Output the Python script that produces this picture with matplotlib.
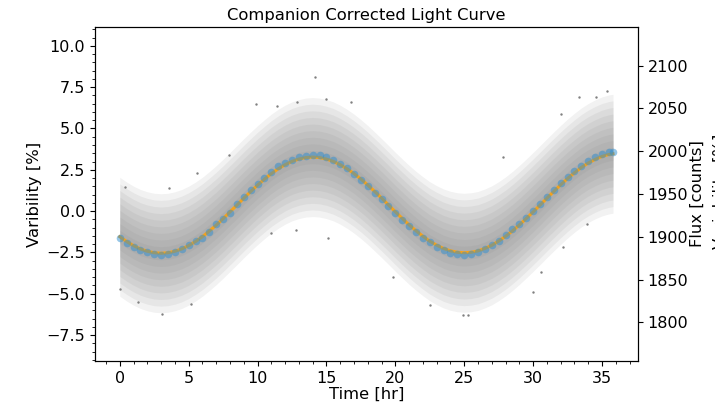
import matplotlib
matplotlib.use('Agg')
import numpy as np
import matplotlib.pyplot as plt
from matplotlib.ticker import AutoMinorLocator

# light curve (time in hr, variability in %)
t_model = [0.0, 0.5, 1.0, 1.5, 2.0, 2.5, 3.0, 3.5, 4.0, 4.5, 5.0, 5.5, 6.0, 6.5, 7.0, 7.5,
           8.0, 8.5, 9.0, 9.5, 10.0, 10.5, 11.0, 11.5, 12.0, 12.5, 13.0, 13.5, 14.0, 14.5,
           15.0, 15.5, 16.0, 16.5, 17.0, 17.5, 18.0, 18.5, 19.0, 19.5, 20.0, 20.5, 21.0,
           21.5, 22.0, 22.5, 23.0, 23.5, 24.0, 24.5, 25.0, 25.5, 26.0, 26.5, 27.0, 27.5,
           28.0, 28.5, 29.0, 29.5, 30.0, 30.5, 31.0, 31.5, 32.0, 32.5, 33.0, 33.5, 34.0,
           34.5, 35.0, 35.5, 35.8]
v_model = [-1.55, -1.84, -2.09, -2.29, -2.43, -2.52, -2.55, -2.52, -2.43, -2.29, -2.09, -1.84,
           -1.55, -1.21, -0.85, -0.46, -0.05, 0.36, 0.78, 1.18, 1.57, 1.93, 2.27, 2.56, 2.81,
           3.01, 3.15, 3.24, 3.27, 3.24, 3.15, 3.01, 2.81, 2.56, 2.27, 1.94, 1.58, 1.19, 0.79,
           0.38, -0.04, -0.44, -0.83, -1.19, -1.52, -1.82, -2.06, -2.26, -2.40, -2.49, -2.52,
           -2.49, -2.41, -2.26, -2.07, -1.82, -1.53, -1.20, -0.84, -0.45, -0.05, 0.36, 0.78,
           1.19, 1.59, 1.97, 2.32, 2.64, 2.91, 3.13, 3.31, 3.43, 3.47]
# binned points (blue), same times
v_binned = [-1.60, -1.90, -2.15, -2.35, -2.50, -2.62, -2.66, -2.60, -2.48, -2.30, -2.05, -1.78,
            -1.62, -1.28, -0.80, -0.50, -0.10, 0.42, 0.85, 1.25, 1.62, 2.02, 2.38, 2.72, 2.93,
            3.12, 3.30, 3.36, 3.38, 3.40, 3.30, 3.10, 2.88, 2.58, 2.22, 1.90, 1.52, 1.12, 0.74,
            0.30, -0.10, -0.52, -0.90, -1.25, -1.60, -1.88, -2.15, -2.36, -2.52, -2.60, -2.64,
            -2.58, -2.46, -2.30, -2.05, -1.78, -1.45, -1.10, -0.78, -0.40, 0.02, 0.44, 0.88,
            1.28, 1.70, 2.08, 2.44, 2.76, 3.02, 3.26, 3.46, 3.60, 3.55]
# isolated outlying raw points
out_t = [14.2, 9.9, 11.4, 12.85, 15.0, 16.8, 7.9, 5.6, 3.6, 0.35, 35.4, 34.6, 33.3, 32.0,
         27.8, 0.0, 3.1, 11.0, 12.8, 15.1, 5.2, 1.3, 24.9, 25.3, 30.0, 22.5, 33.9, 32.2,
         30.6, 19.8]
out_v = [8.1, 6.5, 6.36, 6.6, 6.8, 6.6, 3.4, 2.3, 1.4, 1.45, 7.26, 6.9, 6.9, 5.9,
         3.3, -4.7, -6.2, -1.3, -1.15, -1.65, -5.6, -5.5, -6.3, -6.3, -4.9, -5.7, -0.75, -2.2,
         -3.7, -4.0]

flux_mean = 1930.0   # counts at 0 % variability
v_lim = (-9.07, 11.15)

t_model = np.array(t_model)
v_model = np.array(v_model)

fig = plt.figure(figsize=(7.15, 4.07), dpi=100)
ax = fig.add_axes([0.133, 0.113, 0.759, 0.821])

# dense cloud of raw points, drawn as stacked thin bands
for w in [3.6, 3.2, 2.8, 2.4, 2.0, 1.6, 1.2, 0.8, 0.4]:
    ax.fill_between(t_model, v_model - w, v_model + w, color='#808080', alpha=0.1, lw=0)
ax.scatter(out_t, out_v, s=3, color='#808080', lw=0)

ax.plot(t_model, v_model, color='#f5a21b', lw=2.2, zorder=3)
ax.scatter(t_model, v_binned, s=30, color='#2f8fd0', alpha=0.5, lw=0, zorder=4)

ax.set_xlim(-1.79, 37.6)
ax.set_ylim(*v_lim)
ax.set_yticks([-7.5, -5.0, -2.5, 0.0, 2.5, 5.0, 7.5, 10.0])
ax.xaxis.set_minor_locator(AutoMinorLocator())
ax.yaxis.set_minor_locator(AutoMinorLocator())
ax.tick_params(labelsize=11.5)
ax.set_xlabel('Time [hr]', fontsize=11.8, labelpad=1)
ax.set_ylabel('Varibility [%]', fontsize=11.8, labelpad=3)
ax.set_title('Companion Corrected Light Curve', fontsize=11.8, pad=5)

ax2 = ax.twinx()
ax2.set_ylim(flux_mean * (1 + v_lim[0] / 100), flux_mean * (1 + v_lim[1] / 100))
ax2.set_yticks([1800, 1850, 1900, 1950, 2000, 2050, 2100])
ax2.tick_params(labelsize=11.5)
ax2.set_ylabel('Flux [counts]', fontsize=11.8, labelpad=1)

# second right-hand label, almost entirely cut by the figure edge
fig.text(0.9975, 0.53, 'Variability [%]', rotation=90, fontsize=11.8, ha='left', va='center')

fig.savefig('out.png', dpi=100)
